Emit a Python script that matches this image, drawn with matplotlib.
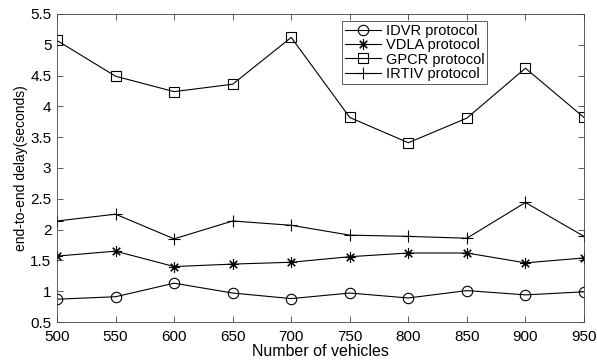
import matplotlib
matplotlib.use("Agg")
import matplotlib.pyplot as plt

plt.rcParams["font.family"] = ["Liberation Sans", "DejaVu Sans"]

vehicles = [500, 550, 600, 650, 700, 750, 800, 850, 900, 950]
idvr  = [0.87, 0.91, 1.13, 0.97, 0.88, 0.97, 0.89, 1.01, 0.94, 0.99]
vdla  = [1.57, 1.65, 1.40, 1.44, 1.47, 1.56, 1.62, 1.62, 1.46, 1.54]
gpcr  = [5.07, 4.49, 4.24, 4.36, 5.12, 3.82, 3.41, 3.81, 4.62, 3.82]
irtiv = [2.14, 2.25, 1.85, 2.14, 2.07, 1.91, 1.89, 1.86, 2.44, 1.89]
yticks = [0.5, 1, 1.5, 2, 2.5, 3, 3.5, 4, 4.5, 5, 5.5]

fig = plt.figure(figsize=(5.97, 3.62), dpi=100)
ax = fig.add_axes([57 / 597, 1 - 322 / 362, (584 - 57) / 597, (322 - 14) / 362])

kw = dict(color="black", linewidth=0.8, markeredgecolor="black", markeredgewidth=0.8)
ax.plot(vehicles, idvr, marker="o", markersize=7.5, markerfacecolor="none",
        label="IDVR protocol", **kw)
ax.plot(vehicles, vdla, marker=(8, 2, 0), markersize=7.5, label="VDLA protocol", **kw)
ax.plot(vehicles, gpcr, marker="s", markersize=6.5, markerfacecolor="none",
        label="GPCR protocol", **kw)
ax.plot(vehicles, irtiv, marker="+", markersize=9, label="IRTIV protocol", **kw)

ax.set_xlim(500, 950)
ax.set_ylim(0.5, 5.5)
ax.set_xticks(vehicles)
ax.set_yticks(yticks)
ax.set_yticklabels([f"{v:g}" for v in yticks])
ax.tick_params(direction="in", top=True, right=True, labelsize=11, length=4.5,
               width=0.6, color="#444444")
ax.tick_params(axis="x", pad=6)
ax.tick_params(axis="y", pad=4)
for s in ax.spines.values():
    s.set_linewidth(0.6)
    s.set_color("#444444")

ax.set_xlabel("Number of vehicles", fontsize=11.5, labelpad=0)
ax.set_ylabel("end-to-end delay(seconds)", fontsize=10, labelpad=2)

leg = ax.legend(loc="upper left", bbox_to_anchor=(0.541, 0.977), fontsize=10.5,
                fancybox=False, edgecolor="#444444", framealpha=1,
                handlelength=2.5, handletextpad=0.3, borderpad=0.2,
                labelspacing=0.02, borderaxespad=0)
leg.get_frame().set_linewidth(0.6)

fig.savefig("out.png", dpi=100)
